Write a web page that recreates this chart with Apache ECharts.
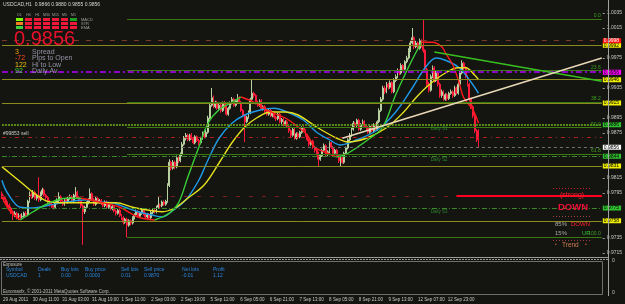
<!DOCTYPE html>
<html><head><meta charset="utf-8">
<script src="https://cdn.jsdelivr.net/npm/echarts@6/dist/echarts.min.js"></script>
<style>html,body{margin:0;padding:0;background:#141410;}#c{width:625px;height:304px;}</style>
</head><body><div id="c"></div>
<script>
// ---- DATA ----
// [open, close, low, high] per H1 bar, USDCAD
const ohlc = [
[.9794,.9790,.9787,.9797],[.9790,.9786,.9783,.9792],[.9786,.9782,.9779,.9789],[.9782,.9779,.9776,.9784],[.9779,.9775,.9772,.9781],[.9775,.9770,.9767,.9777],[.9770,.9766,.9759,.9772],[.9766,.9768,.9763,.9771],[.9768,.9762,.9760,.9770],[.9762,.9765,.9759,.9768],
[.9765,.9763,.9760,.9767],[.9763,.9764,.9761,.9768],[.9764,.9768,.9762,.9770],[.9768,.9766,.9763,.9771],[.9766,.9784,.9764,.9786],[.9784,.9793,.9782,.9797],[.9793,.9790,.9787,.9796],[.9790,.9796,.9788,.9799],[.9796,.9788,.9786,.9798],[.9788,.9792,.9785,.9794],
[.9792,.9786,.9783,.9816],[.9786,.9795,.9784,.9797],[.9795,.9799,.9793,.9802],[.9799,.9792,.9790,.9801],[.9792,.9789,.9786,.9794],[.9789,.9784,.9782,.9791],[.9784,.9780,.9777,.9786],[.9780,.9778,.9775,.9783],[.9778,.9776,.9773,.9780],[.9776,.9782,.9774,.9784],
[.9782,.9785,.9780,.9788],[.9785,.9790,.9783,.9796],[.9790,.9784,.9782,.9792],[.9784,.9780,.9778,.9786],[.9780,.9786,.9778,.9788],[.9786,.9783,.9781,.9789],[.9783,.9788,.9781,.9790],[.9788,.9790,.9786,.9793],[.9790,.9785,.9783,.9792],[.9785,.9792,.9783,.9794],
[.9792,.9796,.9790,.9803],[.9796,.9789,.9787,.9798],[.9789,.9784,.9781,.9791],[.9784,.9778,.9775,.9786],[.9778,.9770,.9726,.9780],[.9770,.9776,.9767,.9778],[.9776,.9782,.9774,.9784],[.9782,.9785,.9780,.9788],[.9785,.9794,.9783,.9801],[.9794,.9786,.9784,.9796],
[.9786,.9780,.9778,.9788],[.9780,.9788,.9778,.9790],[.9788,.9783,.9781,.9790],[.9783,.9785,.9781,.9787],[.9785,.9781,.9779,.9787],[.9781,.9778,.9776,.9783],[.9778,.9783,.9776,.9785],[.9783,.9776,.9774,.9785],[.9776,.9780,.9774,.9782],[.9780,.9774,.9772,.9782],
[.9774,.9777,.9772,.9779],[.9777,.9771,.9769,.9779],[.9771,.9768,.9765,.9773],[.9768,.9772,.9766,.9774],[.9772,.9765,.9763,.9774],[.9765,.9762,.9759,.9767],[.9762,.9756,.9753,.9764],[.9756,.9760,.9754,.9762],[.9760,.9752,.9736,.9762],[.9752,.9758,.9750,.9760],
[.9758,.9755,.9752,.9760],[.9755,.9762,.9753,.9764],[.9762,.9766,.9760,.9768],[.9766,.9770,.9764,.9773],[.9770,.9764,.9762,.9772],[.9764,.9768,.9762,.9770],[.9768,.9772,.9766,.9775],[.9772,.9767,.9765,.9774],[.9767,.9763,.9760,.9769],[.9763,.9766,.9761,.9768],
[.9766,.9762,.9759,.9768],[.9762,.9769,.9760,.9771],[.9769,.9772,.9767,.9775],[.9772,.9770,.9768,.9774],[.9770,.9776,.9768,.9778],[.9776,.9779,.9774,.9790],[.9779,.9778,.9775,.9781],[.9778,.9783,.9776,.9785],[.9783,.9780,.9778,.9785],[.9780,.9784,.9778,.9786],
[.9784,.9805,.9782,.9808],[.9805,.9836,.9803,.9840],[.9836,.9828,.9825,.9838],[.9828,.9836,.9826,.9839],[.9836,.9830,.9827,.9838],[.9830,.9842,.9828,.9845],[.9842,.9838,.9835,.9844],[.9838,.9846,.9836,.9849],[.9846,.9860,.9844,.9863],[.9860,.9868,.9858,.9871],
[.9868,.9872,.9865,.9875],[.9872,.9866,.9864,.9874],[.9866,.9872,.9864,.9874],[.9872,.9868,.9866,.9875],[.9868,.9862,.9860,.9870],[.9862,.9870,.9860,.9872],[.9870,.9865,.9863,.9872],[.9865,.9862,.9859,.9867],[.9862,.9868,.9860,.9870],[.9868,.9874,.9866,.9877],
[.9874,.9870,.9868,.9876],[.9870,.9876,.9868,.9879],[.9876,.9895,.9874,.9898],[.9895,.9912,.9893,.9916],[.9912,.9922,.9910,.9935],[.9922,.9910,.9908,.9925],[.9910,.9916,.9908,.9918],[.9916,.9908,.9906,.9918],[.9908,.9912,.9906,.9915],[.9912,.9905,.9902,.9914],
[.9905,.9915,.9903,.9917],[.9915,.9910,.9908,.9918],[.9910,.9900,.9898,.9912],[.9900,.9908,.9898,.9910],[.9908,.9915,.9906,.9917],[.9915,.9920,.9913,.9923],[.9920,.9912,.9910,.9922],[.9912,.9918,.9910,.9920],[.9918,.9922,.9916,.9927],[.9922,.9916,.9914,.9924],
[.9916,.9905,.9903,.9918],[.9905,.9898,.9896,.9907],[.9898,.9890,.9863,.9900],[.9890,.9896,.9888,.9898],[.9896,.9902,.9894,.9905],[.9902,.9920,.9900,.9922],[.9920,.9928,.9918,.9946],[.9928,.9925,.9922,.9930],[.9925,.9915,.9913,.9927],[.9915,.9912,.9910,.9918],
[.9912,.9918,.9910,.9920],[.9918,.9908,.9906,.9920],[.9908,.9910,.9905,.9912],[.9910,.9904,.9902,.9912],[.9904,.9900,.9898,.9906],[.9900,.9905,.9898,.9907],[.9905,.9898,.9896,.9907],[.9898,.9902,.9896,.9904],[.9902,.9896,.9894,.9904],[.9896,.9894,.9891,.9898],
[.9894,.9900,.9892,.9902],[.9900,.9890,.9888,.9902],[.9890,.9893,.9887,.9895],[.9893,.9886,.9884,.9895],[.9886,.9890,.9884,.9892],[.9890,.9884,.9882,.9892],[.9884,.9878,.9875,.9886],[.9878,.9872,.9869,.9880],[.9872,.9880,.9870,.9882],[.9880,.9868,.9866,.9882],
[.9868,.9874,.9866,.9876],[.9874,.9870,.9867,.9876],[.9870,.9876,.9868,.9878],[.9876,.9882,.9874,.9884],[.9882,.9878,.9876,.9884],[.9878,.9872,.9870,.9880],[.9872,.9866,.9864,.9874],[.9866,.9860,.9857,.9868],[.9860,.9864,.9858,.9866],[.9864,.9856,.9854,.9866],
[.9856,.9852,.9849,.9858],[.9852,.9848,.9845,.9854],[.9848,.9840,.9830,.9850],[.9840,.9845,.9838,.9847],[.9845,.9852,.9843,.9854],[.9852,.9858,.9850,.9861],[.9858,.9846,.9844,.9860],[.9846,.9850,.9844,.9852],[.9850,.9862,.9848,.9864],[.9862,.9856,.9854,.9864],
[.9856,.9848,.9846,.9858],[.9848,.9852,.9846,.9854],[.9852,.9845,.9843,.9854],[.9845,.9838,.9835,.9847],[.9838,.9842,.9830,.9844],[.9842,.9836,.9834,.9844],[.9836,.9848,.9834,.9850],[.9848,.9855,.9846,.9857],[.9855,.9866,.9853,.9868],[.9866,.9872,.9864,.9875],
[.9872,.9880,.9870,.9882],[.9880,.9888,.9878,.9891],[.9888,.9885,.9882,.9890],[.9885,.9892,.9883,.9894],[.9892,.9880,.9878,.9894],[.9880,.9886,.9878,.9888],[.9886,.9890,.9884,.9893],[.9890,.9884,.9882,.9892],[.9884,.9882,.9879,.9886],[.9882,.9876,.9874,.9884],
[.9876,.9884,.9874,.9886],[.9884,.9878,.9876,.9886],[.9878,.9886,.9876,.9888],[.9886,.9880,.9878,.9888],[.9880,.9890,.9878,.9892],[.9890,.9905,.9888,.9908],[.9905,.9920,.9903,.9923],[.9920,.9935,.9918,.9938],[.9935,.9930,.9927,.9938],[.9930,.9940,.9928,.9943],
[.9940,.9936,.9933,.9942],[.9936,.9942,.9934,.9945],[.9942,.9930,.9928,.9944],[.9930,.9945,.9928,.9948],[.9945,.9950,.9943,.9953],[.9950,.9958,.9948,.9961],[.9958,.9955,.9952,.9960],[.9955,.9965,.9953,.9968],[.9965,.9960,.9957,.9967],[.9960,.9970,.9958,.9972],
[.9970,.9975,.9968,.9978],[.9975,.9985,.9973,.9988],[.9985,.9995,.9983,.9998],[.9995,1.0002,.9993,1.0015],[1.0002,.9990,.9987,1.0004],[.9990,.9995,.9988,.9998],[.9995,.9988,.9985,.9997],[.9988,.9998,.9986,1.0001],[.9998,.9992,.9989,1.0000],[.9992,.9985,.9982,1.0026],
[.9985,.9960,.9957,.9987],[.9960,.9940,.9937,.9962],[.9940,.9932,.9929,.9943],[.9932,.9950,.9930,.9953],[.9950,.9962,.9948,.9965],[.9962,.9945,.9942,.9964],[.9945,.9955,.9943,.9958],[.9955,.9940,.9937,.9957],[.9940,.9925,.9922,.9942],[.9925,.9930,.9922,.9933],
[.9930,.9920,.9918,.9932],[.9920,.9926,.9918,.9928],[.9926,.9921,.9918,.9928],[.9921,.9928,.9919,.9930],[.9928,.9930,.9926,.9933],[.9930,.9925,.9922,.9932],[.9925,.9935,.9923,.9938],[.9935,.9928,.9926,.9937],[.9928,.9940,.9926,.9943],[.9940,.9955,.9938,.9958],
[.9955,.9968,.9953,.9972],[.9968,.9962,.9959,.9970],[.9962,.9950,.9948,.9964],[.9950,.9940,.9937,.9952],[.9940,.9920,.9917,.9942],[.9920,.9910,.9907,.9922],[.9910,.9898,.9895,.9912],[.9898,.9878,.9875,.9900],[.9878,.9866,.9863,.9880],[.9866,.9856,.9855,.9880]
];

// fast MA: green while rising, red while falling  [barIndex, price]
const fastMaSegments = [
  {dir:'down', pts:[[0,.9790],[4,.9772],[10,.9759]]},
  {dir:'up',   pts:[[10,.9759],[17,.9770],[26,.9782],[35,.9788],[43,.9788]]},
  {dir:'down', pts:[[43,.9788],[53,.9783],[64,.9776],[74,.9763],[83,.9759]]},
  {dir:'up',   pts:[[83,.9759],[91,.9768],[96,.9782],[101,.9816],[107,.9856],[112,.9888],[118,.9906],[125,.9916],[130,.9923]]},
  {dir:'down', pts:[[130,.9923],[137,.9916],[146,.9903],[154,.9895],[161,.9883],[166,.9872],[170,.9856],[175,.9850],[182,.9843]]},
  {dir:'up',   pts:[[182,.9843],[188,.9848],[200,.9868],[207,.9883],[214,.9926],[222,.9968],[228,.9996]]},
  {dir:'down', pts:[[228,.9996],[234,.9996],[239,.9990],[241,.9982],[245,.9966],[248,.9946],[251,.9922],[256,.9906],[259,.9888]]}
];
const blueMa = [[0,.9812],[3,.9795],[10,.9776],[17,.9775],[26,.9779],[35,.9783],[46,.9786],[53,.9783],[60,.9782],[67,.9776],[74,.9770],[81,.9766],[87,.9763],[92,.9770],[100,.9786],[107,.9812],[112,.9839],[118,.9868],[125,.9888],[132,.9899],[141,.9906],[148,.9908],[155,.9903],[164,.9892],[171,.9876],[178,.9866],[184,.9859],[193,.9866],[204,.9879],[214,.9903],[223,.9935],[230,.9962],[236,.9975],[241,.9972],[248,.9963],[254,.9946],[259,.9928]];
const yellowMa = [[0,.9830],[4,.9822],[11,.9808],[19,.9792],[26,.9783],[35,.9782],[44,.9782],[53,.9782],[62,.9782],[71,.9776],[80,.9772],[87,.9770],[94,.9775],[101,.9788],[110,.9806],[118,.9835],[125,.9862],[132,.9883],[139,.9896],[146,.9903],[154,.9903],[161,.9899],[171,.9883],[182,.9868],[188,.9863],[198,.9868],[209,.9882],[218,.9902],[225,.9922],[232,.9939],[241,.9955],[248,.9962],[252,.9962],[257,.9952],[259,.9946]];

// horizontal levels
const oliveLevels = [.9992, .9946, .9915, .9831, .9758];
const pivotLevels = [.9886, .9844, .9775];
const pivotNames = ['Daily S1', 'Daily S2', 'Daily S3'];
const fibLevels = [1.0027, .9958, .9916, .9882, .9847, .9736];
const fibNames = ['0.0', '23.6', '38.2', '50.0', '61.8', '100.0'];
const fibStartIdx = 68;
const magentaLevel = .9956;
const resistLevel = .9998;
const bidLevel = .9856;
const sellLevel = .9870;
const redLevel = .9791;
const redLevelStartIdx = 247;
const greenTrend = [[235, .9983], [326, .9944]];
const beigeTrend = [[185, .9868], [326, .9975]];

// axes
const priceTicks = [1.0035, 1.0015, .9975, .9935, .9895, .9875, .9815, .9795, .9735, .9715];
const xTickIdx = [0, 16, 32, 48, 64, 80, 96, 112, 128, 144, 160, 176, 192, 208, 224, 240, 256];
const xTickLabels = ['29 Aug 2011','30 Aug 11:00','31 Aug 03:00','31 Aug 19:00','1 Sep 11:00','2 Sep 03:00','2 Sep 19:00','5 Sep 11:00','6 Sep 05:00','6 Sep 21:00','7 Sep 13:00','8 Sep 05:00','8 Sep 21:00','9 Sep 13:00','12 Sep 07:00','12 Sep 23:00','13 Sep 15:00'];
const nCats = 327;

// panel texts
const tfNames = ['D1','H4','H1','M30','M15','M5','M1'];
const signalRows = ['MACD','STR','EMA'];
const signalColors = [
  ['#7cfc00','#f01838','#f01838','#f01838','#f01838','#f01838','#20a020'],
  ['#f08020','#f01838','#f01838','#f01838','#f01838','#f01838','#f01838'],
  ['#40d040','#f01838','#f01838','#f01838','#f01838','#f01838','#f01838']
];
const infoValues = ['3','-72','122','92'];
const infoNames = ['Spread','Pips to Open','Hi to Low','Daily Av'];
const infoColors = ['#f0a010','#ff4a20','#f0c010','#40e040'];
const expHeaders = ['Symbol','Deals','Buy lots','Buy price','Sell lots','Sell price','Net lots','Profit'];
const expValues = ['USDCAD','1','0.00','0.0000','0.01','0.9870','-0.01','1.12'];

// ---- CHART ----
const FF = 'Liberation Sans';
const cats = Array.from({length: nCats}, (_, i) => String(i));
const yMin = 0.970967, yMax = 1.005233;
const lastIdx = nCats - 1;

function box(v, bg, fg) {
  return {show: true, position: 'end', distance: 1, formatter: v.toFixed(4), backgroundColor: bg,
          color: fg || '#000', fontSize: 5, lineHeight: 5, padding: [0, 2, 0, 1], fontFamily: FF};
}
// a horizontal level drawn across the whole plot, from the first to the last category
function hline(v, color, type, width, label, startIdx) {
  return [{coord: [startIdx || 0, v], lineStyle: {color: color, type: type, width: width || 1}, label: label || {show: false}},
          {coord: [lastIdx, v]}];
}

const mlData = [];
oliveLevels.forEach(v => mlData.push(hline(v, '#8a8a1e', 'solid', 1, box(v, '#f0f000'))));
mlData.push(hline(resistLevel, '#7a3a2a', [5, 7], 1, box(resistLevel, '#ff1010', '#fff')));
mlData.push(hline(magentaLevel, '#b400ff', [6, 3, 2, 3], 1.5, box(magentaLevel, '#ff00ff')));
pivotLevels.forEach((v, k) => mlData.push(hline(v, k === 0 ? '#5a8a1a' : '#3a8a2a', k === 0 ? [2, 1] : [5, 2, 1, 2], k === 0 ? 2 : 1, box(v, '#30c030'))));
mlData.push(hline(bidLevel, '#707070', [3, 3], 1, box(bidLevel, '#ffffff')));
mlData.push(hline(sellLevel, '#b02020', [4, 4, 1, 4], 1,
  {show: true, position: 'insideStartTop', distance: 1, formatter: '#99853 sell', color: '#c8c8c8', fontSize: 5, fontFamily: FF}));
mlData.push(hline(redLevel, '#7a2020', [4, 9], 1));
mlData.push(hline(redLevel, '#ff0020', 'solid', 2, null, redLevelStartIdx));
fibLevels.forEach((v, k) => mlData.push(hline(v, '#3b7a12', 'solid', 1,
  {show: true, position: 'insideEndTop', distance: 1, formatter: fibNames[k], color: '#3fa020', fontSize: 5, fontFamily: FF}, fibStartIdx)));
mlData.push([{coord: greenTrend[0], lineStyle: {color: '#38c020', width: 1.5, type: 'solid'}, label: {show: false}}, {coord: greenTrend[1]}]);
mlData.push([{coord: beigeTrend[0], lineStyle: {color: '#e8d8b8', width: 1.5, type: 'solid'}, label: {show: false}}, {coord: beigeTrend[1]}]);

const series = [{
  type: 'candlestick', xAxisIndex: 0, yAxisIndex: 0, data: ohlc, barWidth: 1.4, z: 2,
  itemStyle: {color: '#d8f0c0', color0: '#ff1a3a', borderColor: '#b8d0a0', borderColor0: '#ff1a3a', borderWidth: 1},
  markLine: {symbol: ['none', 'none'], silent: true, animation: false, data: mlData},
  markPoint: {silent: true, animation: false, symbolSize: 0,
    data: pivotLevels.map((v, k) => ({coord: [233, v], symbolSize: 0,
      label: {show: true, position: 'right', distance: 0, offset: [0, 4], formatter: pivotNames[k], color: '#2e8a2e', fontSize: 4.5, fontFamily: FF}}))}
}];
fastMaSegments.forEach(s => series.push({type: 'line', data: s.pts, smooth: 0.35, symbol: 'none', z: 4, silent: true,
  lineStyle: {color: s.dir === 'up' ? '#38d038' : '#ff1a1a', width: 1.4}}));
series.push({type: 'line', data: blueMa, smooth: 0.35, symbol: 'none', z: 3, silent: true, lineStyle: {color: '#1e9be8', width: 1.4}});
series.push({type: 'line', data: yellowMa, smooth: 0.35, symbol: 'none', z: 3, silent: true, lineStyle: {color: '#e6e21e', width: 1.4}});
series.push({type: 'line', xAxisIndex: 1, yAxisIndex: 1, data: [], symbol: 'none'});

// graphic overlay
const g = [];
function txt(x, y, t, color, size, weight, align) {
  g.push({type: 'text', x: x, y: y, z: 50, silent: true,
    style: {text: t, fill: color, fontSize: size, fontFamily: FF, fontWeight: weight || 'normal', align: align || 'left', verticalAlign: 'middle'}});
}
function ln(x1, y1, x2, y2, color, w, dash) {
  g.push({type: 'line', z: 40, silent: true, shape: {x1: x1, y1: y1, x2: x2, y2: y2},
    style: {stroke: color, lineWidth: w || 1, lineDash: dash || null}});
}
txt(3, 5, 'USDCAD,H1  0.9866 0.9880 0.9855 0.9856', '#d8d8d8', 5);
tfNames.forEach((t, c) => txt(19.5 + 9 * c, 15, t, '#a0a0a0', 3.5, 'normal', 'center'));
signalColors.forEach((row, r) => row.forEach((col, c) =>
  g.push({type: 'rect', z: 50, silent: true, shape: {x: 16 + 9 * c, y: 18 + 4 * r, width: 7, height: 3}, style: {fill: col}})));
signalRows.forEach((t, r) => txt(81, 19.5 + 4 * r, t, '#a0a0a0', 4));
txt(14, 39.5, '0.9856', '#e8102a', 20);
infoValues.forEach((t, k) => {
  txt(15, 52 + 6.5 * k, t, infoColors[k], 7);
  txt(32, 52 + 6.5 * k, infoNames[k], '#9494a8', 7);
});
// signal block on the right
ln(553, 188.5, 590, 188.5, '#c02020', 1, [1, 2]);
txt(560, 195, '(strong)', '#ff2030', 7);
txt(558, 207, 'DOWN', '#f0103a', 9.5, 'bold');
ln(553, 216.5, 590, 216.5, '#a04040', 1, [1, 2]);
txt(555, 224, '85%', '#a8a8a8', 6); txt(571, 224, 'DOWN', '#ff2030', 6);
txt(555, 233, '15%', '#a8a8a8', 6); txt(582, 233, 'UP', '#30c030', 6);
ln(553, 240.5, 590, 240.5, '#a04040', 1, [1, 2]);
txt(555, 245, '\u2022', '#e06030', 5); txt(562, 245, 'Trend', '#d08050', 6.5); txt(585, 245, '\u2022', '#e06030', 5);
// frames
ln(0, 257.5, 608, 257.5, '#9a9a9a', 1);
ln(0, 259.5, 608, 259.5, '#9a9a9a', 1, [2, 1]);
ln(608.5, 0, 608.5, 296, '#a0a0a0', 1);
g.push({type: 'rect', z: 40, silent: true, shape: {x: 1.5, y: 261.5, width: 601, height: 33}, style: {fill: null, stroke: '#6e6e6e', lineWidth: 1}});
// exposure panel
const expX = [6, 38, 61, 85, 121, 144, 182, 213];
txt(3, 264.5, 'Exposure', '#c0c0c0', 4.5);
expHeaders.forEach((t, k) => txt(expX[k], 270, t, '#2a86e0', 5));
expValues.forEach((t, k) => txt(expX[k], 276, t, '#2a86e0', 5));
txt(3, 291.5, 'Euromaxfx, \u00a9 2001-2011 MetaQuotes Software Corp.', '#c0c0c0', 4.5);

const chart = echarts.init(document.getElementById('c'), null, {renderer: 'canvas'});
chart.setOption({
  backgroundColor: '#141410',
  animation: false,
  textStyle: {fontFamily: FF},
  grid: [{left: 1, right: 17, top: 0, height: 257}, {left: 1, right: 17, top: 261, height: 32}],
  xAxis: [
    {type: 'category', gridIndex: 0, data: cats, boundaryGap: true, axisLine: {show: false}, axisTick: {show: false}, axisLabel: {show: false}, splitLine: {show: false}},
    {type: 'category', gridIndex: 1, data: cats, boundaryGap: true, axisLine: {show: false}, axisTick: {show: false}, splitLine: {show: false},
     axisLabel: {interval: (i) => xTickIdx.indexOf(i) >= 0,
       formatter: (v, i) => { const k = xTickIdx.indexOf(Number(v)); return k >= 0 ? xTickLabels[k] : ''; },
       align: 'left', color: '#c8c8c8', fontSize: 4.5, margin: 4, showMaxLabel: false, fontFamily: FF}}
  ],
  yAxis: [
    {type: 'value', gridIndex: 0, position: 'right', min: yMin, max: yMax, splitLine: {show: false},
     axisLine: {show: false},
     axisTick: {show: true, length: 2, customValues: priceTicks, lineStyle: {color: '#a0a0a0'}},
     axisLabel: {customValues: priceTicks, formatter: v => v.toFixed(4), color: '#c8c8c8', fontSize: 5, margin: 4, fontFamily: FF}},
    {type: 'value', gridIndex: 1, position: 'right', min: 0, max: 1, splitLine: {show: false}, axisLine: {show: false}, axisTick: {show: false},
     axisLabel: {customValues: [0, 1], formatter: () => '0', color: '#c8c8c8', fontSize: 5, margin: 4, fontFamily: FF}}
  ],
  series: series,
  graphic: g
});
</script></body></html>
